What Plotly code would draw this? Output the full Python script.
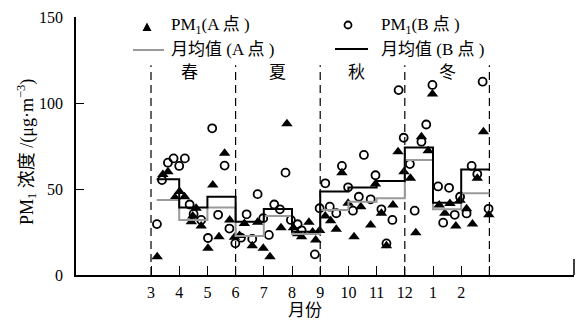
import plotly.graph_objects as go

# ---------------- data ----------------
# month positions: 3..12 = Mar..Dec, 13 = Jan, 14 = Feb (next year)
a_x = [3.22, 3.42, 3.60, 3.85, 4.01, 4.19, 4.43, 4.48, 4.60, 4.78, 5.02, 5.19, 5.41, 5.61, 5.79, 5.96,
       6.14, 6.31, 6.59, 6.78, 6.98, 7.22, 7.61, 7.82, 8.05, 8.20, 8.34, 8.60, 8.73, 8.84,
       8.98, 9.18, 9.37, 9.57, 9.77, 9.99, 10.20, 10.44, 10.79, 10.96, 11.17, 11.35, 11.58, 11.76, 11.97,
       12.20, 12.39, 12.59, 12.83, 12.98, 13.22, 13.42, 13.60, 13.81, 13.96, 14.19, 14.40, 14.57, 14.79, 14.98]
a_y = [10.6, 58.5, 60.0, 45.0, 48.5, 45.5, 31.0, 34.3, 38.8, 28.5, 15.5, 52.3, 22.3, 70.8, 32.0, 22.0,
       23.0, 30.0, 17.0, 30.6, 15.5, 10.6, 27.5, 88.0, 27.5, 24.0, 22.3, 30.6, 25.0, 20.3,
       25.8, 34.3, 31.6, 26.6, 59.5, 41.7, 22.3, 39.7, 29.0, 52.9, 35.9, 17.0, 40.7, 71.7, 60.0,
       56.2, 24.6, 80.4, 72.3, 105.2, 40.7, 35.9, 41.5, 28.5, 43.5, 38.5, 29.6, 56.2, 83.3, 35.0]

b_x = [3.21, 3.39, 3.60, 3.80, 4.00, 4.20, 4.37, 4.51, 4.78, 5.02, 5.17, 5.38, 5.61, 5.78, 5.99,
       6.19, 6.39, 6.59, 6.78, 6.98, 7.18, 7.37, 7.57, 7.77, 7.96, 8.20, 8.34, 8.81,
       8.98, 9.18, 9.34, 9.57, 9.77, 9.99, 10.16, 10.37, 10.55, 10.79, 10.96, 11.17, 11.35, 11.56, 11.78,
       11.96, 12.18, 12.35, 12.59, 12.76, 12.98, 13.18, 13.36, 13.57, 13.77, 13.96, 14.19, 14.37, 14.57, 14.76, 14.97]
b_y = [29.6, 55.2, 65.3, 67.8, 63.4, 67.8, 41.0, 35.5, 32.0, 21.5, 85.3, 35.0, 63.6, 27.0, 18.4,
       21.7, 35.3, 21.0, 47.0, 33.0, 23.3, 41.0, 38.2, 59.5, 32.0, 29.5, 26.0, 12.0,
       38.8, 53.3, 39.7, 35.9, 63.4, 51.0, 37.4, 45.5, 69.8, 44.0, 58.0, 38.2, 18.4, 32.0, 107.5,
       79.8, 64.5, 37.4, 77.5, 87.5, 110.5, 51.5, 30.4, 50.7, 35.0, 45.5, 35.8, 63.4, 58.7, 112.4, 38.5]

month_edges = [3.2, 4, 5, 6, 7, 8, 9, 10, 11, 12, 13, 14, 15]
mean_a = [43.6, 32.0, 39.3, 22.7, 34.3, 23.8, 37.8, 42.6, 44.6, 66.9, 38.2, 47.5]
mean_b = [55.6, 39.3, 45.5, 31.0, 38.4, 25.2, 48.5, 50.8, 54.7, 74.2, 42.0, 61.4]

tick_vals = [3, 4, 5, 6, 7, 8, 9, 10, 11, 12, 13, 14, 15]
tick_text = ["3", "4", "5", "6", "7", "8", "9", "10", "11", "12", "1", "2", " "]

season_bounds = [3, 6, 9, 12, 15]
season_names = ["春", "夏", "秋", "冬"]
season_label_x = [4.35, 7.5, 10.3, 13.5]

FONT = "Liberation Serif, 'Times New Roman', 'Noto Sans CJK SC', serif"

# ---------------- figure ----------------
W, H = 576, 320
ML, MR, MT, MB = 76, 2, 17, 45
PW, PH = W - ML - MR, H - MT - MB


def px(xp):
    return (xp - ML) / PW


def py(yp):
    return (H - MB - yp) / PH


fig = go.Figure()

fig.add_trace(go.Scatter(
    x=b_x, y=b_y, mode="markers", name="PM1(B 点)",
    marker=dict(symbol="circle-open", size=8, color="black", line=dict(width=1.8)),
    showlegend=False, cliponaxis=False))

fig.add_trace(go.Scatter(
    x=a_x, y=a_y, mode="markers", name="PM1(A 点)",
    marker=dict(symbol="triangle-up", size=10, color="black", line=dict(width=0)),
    showlegend=False, cliponaxis=False))

fig.add_trace(go.Scatter(
    x=month_edges, y=mean_a + [mean_a[-1]], mode="lines", line_shape="hv",
    line=dict(color="#9a9a9a", width=2), showlegend=False))

fig.add_trace(go.Scatter(
    x=month_edges, y=mean_b + [mean_b[-1]], mode="lines", line_shape="hv",
    line=dict(color="black", width=2), showlegend=False))

shapes = []
for sb in season_bounds:
    shapes.append(dict(type="line", xref="x", yref="y", x0=sb, x1=sb, y0=0, y1=122,
                       line=dict(color="black", width=1.2, dash="8px,5px"), layer="below"))
# tall end tick at right end of x-axis
shapes.append(dict(type="line", xref="paper", yref="paper", x0=1, x1=1, y0=0, y1=py(259),
                   line=dict(color="black", width=1.5)))

# legend glyphs (pixel positions converted to paper)
shapes.append(dict(type="path", xref="paper", yref="paper",
                   path=f"M {px(142.5)} {py(31)} L {px(151.5)} {py(31)} L {px(147)} {py(22.5)} Z",
                   fillcolor="black", line=dict(width=0)))
shapes.append(dict(type="line", xref="paper", yref="paper", x0=px(133), x1=px(164),
                   y0=py(50), y1=py(50), line=dict(color="#9a9a9a", width=2)))
shapes.append(dict(type="circle", xref="paper", yref="paper", x0=px(344.5), x1=px(351.5),
                   y0=py(28.5), y1=py(21.5), line=dict(color="black", width=1.8)))
shapes.append(dict(type="line", xref="paper", yref="paper", x0=px(335), x1=px(368),
                   y0=py(49), y1=py(49), line=dict(color="black", width=2)))

annotations = []
for name, sx in zip(season_names, season_label_x):
    annotations.append(dict(x=sx, y=117.5, xref="x", yref="y", text=name, showarrow=False,
                            font=dict(size=17, family=FONT, color="black")))

legend_texts = [
    ("PM<sub>1</sub>(A 点 )", 169, 26),
    ("月均值 (A 点 )", 169, 49),
    ("PM<sub>1</sub>(B 点 )", 379, 26),
    ("月均值 (B 点 )", 379, 49),
]
for t, lx, ly in legend_texts:
    annotations.append(dict(x=px(lx), y=py(ly), xref="paper", yref="paper", text=t,
                            showarrow=False, xanchor="left", yanchor="middle",
                            font=dict(size=17, family=FONT, color="black")))

annotations.append(dict(x=px(26), y=py(152), xref="paper", yref="paper",
                        text="PM<sub>1</sub> 浓度 /(μg·m<sup>−3</sup>)", textangle=-90,
                        showarrow=False, xanchor="center", yanchor="middle",
                        font=dict(size=18, family=FONT, color="black")))
annotations.append(dict(x=px(305), y=py(310), xref="paper", yref="paper", text="月份",
                        showarrow=False, xanchor="center", yanchor="middle",
                        font=dict(size=17, family=FONT, color="black")))

fig.update_layout(
    width=W, height=H,
    margin=dict(l=ML, r=MR, t=MT, b=MB),
    paper_bgcolor="white", plot_bgcolor="white",
    font=dict(family=FONT, size=16, color="black"),
    shapes=shapes, annotations=annotations,
    xaxis=dict(range=[0.34, 18], tickmode="array", tickvals=tick_vals, ticktext=tick_text,
               ticks="inside", ticklen=9, tickwidth=1.3, tickcolor="black",
               showline=True, linecolor="black", linewidth=1.5, showgrid=False, zeroline=False,
               tickfont=dict(size=16, family=FONT), ticklabelstandoff=2),
    yaxis=dict(range=[0, 150], tickmode="array", tickvals=[0, 50, 100, 150],
               ticks="inside", ticklen=8, tickwidth=1.3, tickcolor="black",
               showline=True, linecolor="black", linewidth=1.5, showgrid=False, zeroline=False,
               tickfont=dict(size=16, family=FONT), ticklabelstandoff=8),
    showlegend=False,
)

fig.write_html("out.html", config={"displayModeBar": False},
               post_script="document.body.style.margin='0px';document.body.style.overflow='hidden';")
